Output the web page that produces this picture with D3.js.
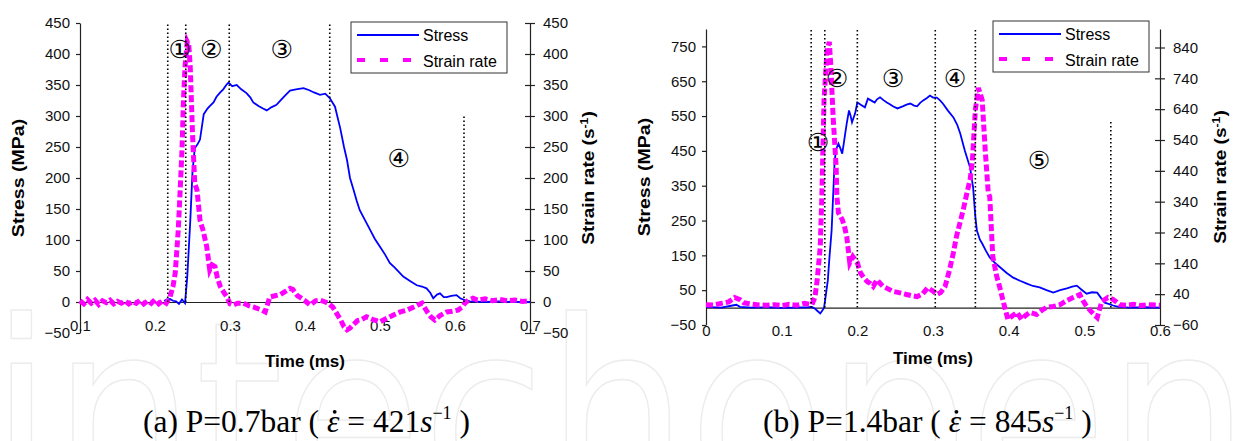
<!DOCTYPE html>
<html>
<head>
<meta charset="UTF-8">
<title></title>
<script src="https://d3js.org/d3.v7.min.js"></script>
<style>
body { margin: 0; background: #fff; }
svg text { font-family: "Liberation Sans", Arial, sans-serif; }
</style>
</head>
<body>
<div id="chart"></div>
<script>
// ---------- panel (a): P = 0.7 bar ----------
var timeTicksA = [0.1, 0.2, 0.3, 0.4, 0.5, 0.6, 0.7];
var stressTicksA = [-50, 0, 50, 100, 150, 200, 250, 300, 350, 400, 450];
var rateTicksA = [-50, 0, 50, 100, 150, 200, 250, 300, 350, 400, 450];

// [time (ms), stress (MPa)]
var stressA = [[0.212,2],[0.216,4],[0.220,5],[0.224,2],[0.228,1],[0.232,-3],[0.236,4],[0.240,-2],
  [0.243,40],[0.247,130],[0.250,210],[0.253,248],[0.257,255],[0.260,262],[0.265,303],[0.270,312],
  [0.273,316],[0.278,322],[0.282,331],[0.287,338],[0.291,343],[0.295,350],[0.298,354],[0.303,348],
  [0.309,350],[0.315,343],[0.322,337],[0.327,330],[0.331,322],[0.338,316],[0.344,312],[0.349,309],
  [0.355,314],[0.362,318],[0.368,326],[0.375,335],[0.380,341],[0.388,343],[0.398,345],[0.405,342],
  [0.412,338],[0.420,334],[0.427,336],[0.433,329],[0.440,315],[0.447,280],[0.452,250],[0.456,229],
  [0.460,200],[0.465,180],[0.469,163],[0.473,148],[0.480,132],[0.487,116],[0.493,102],[0.500,89],
  [0.507,76],[0.513,63],[0.520,55],[0.531,41],[0.540,34],[0.549,27],[0.556,25],[0.562,22],[0.567,15],
  [0.571,6],[0.576,12],[0.580,14],[0.585,8],[0.589,8],[0.595,10],[0.602,11],[0.607,6],[0.613,3],
  [0.620,1],[0.640,0],[0.660,1],[0.680,0],[0.700,0]];

// [time (ms), strain rate (1/s)]
var rateA = [[0.100,2],[0.105,-3],[0.110,4],[0.115,-2],[0.120,3],[0.125,-4],[0.130,2],[0.135,-1],
  [0.140,3],[0.145,-3],[0.150,1],[0.155,-2],[0.160,2],[0.165,-3],[0.170,1],[0.175,-2],[0.180,3],
  [0.185,-3],[0.190,2],[0.195,-2],[0.200,4],[0.205,-3],[0.210,2],[0.215,-2],[0.220,8],[0.224,25],
  [0.227,47],[0.231,116],[0.233,165],[0.236,245],[0.238,326],[0.240,379],[0.243,420],[0.245,415],
  [0.247,379],[0.250,272],[0.253,191],[0.256,181],[0.260,132],[0.264,116],[0.267,100],[0.269,89],
  [0.273,52],[0.276,60],[0.280,57],[0.283,40],[0.287,25],[0.292,15],[0.296,8],[0.300,-3],[0.304,-5],
  [0.310,-2],[0.318,-2],[0.325,-6],[0.331,-8],[0.340,-12],[0.347,-16],[0.353,8],[0.360,10],[0.367,12],
  [0.375,18],[0.380,22],[0.384,20],[0.390,10],[0.393,8],[0.400,2],[0.407,-5],[0.414,2],[0.420,3],
  [0.427,0],[0.431,-2],[0.437,-8],[0.442,-18],[0.448,-30],[0.452,-40],[0.456,-45],[0.460,-42],
  [0.464,-37],[0.470,-30],[0.476,-28],[0.482,-24],[0.490,-28],[0.500,-32],[0.508,-27],[0.518,-21],
  [0.527,-16],[0.536,-13],[0.545,-8],[0.550,-5],[0.556,-2],[0.560,-10],[0.564,-18],[0.568,-24],
  [0.573,-29],[0.580,-22],[0.589,-16],[0.596,-15],[0.604,-13],[0.610,-8],[0.613,-2],[0.618,3],
  [0.624,6],[0.630,3],[0.640,5],[0.650,2],[0.660,4],[0.670,2],[0.680,3],[0.690,1],[0.700,2]];

// phase boundaries: time and stress level where the dotted line stops
var phaseLinesA = [{t:0.217, top:450}, {t:0.241, top:450}, {t:0.299, top:450}, {t:0.433, top:450}, {t:0.612, top:300}];
var phaseLabelsA = [{s:"①", t:0.233, v:408}, {s:"②", t:0.275, v:408}, {s:"③", t:0.369, v:408}, {s:"④", t:0.525, v:232}];

// ---------- panel (b): P = 1.4 bar ----------
var timeTicksB = [0, 0.1, 0.2, 0.3, 0.4, 0.5, 0.6];
var stressTicksB = [-50, 50, 150, 250, 350, 450, 550, 650, 750];
var rateTicksB = [-60, 40, 140, 240, 340, 440, 540, 640, 740, 840];

var stressB = [[0,2],[0.020,0],[0.035,6],[0.040,8],[0.045,2],[0.060,0],[0.080,1],[0.100,-1],[0.120,0],
  [0.135,1],[0.140,2],[0.144,-3],[0.147,-9],[0.151,-17],[0.154,-8],[0.156,0],[0.158,30],[0.161,78],
  [0.163,140],[0.166,221],[0.168,320],[0.170,420],[0.172,455],[0.175,471],[0.178,455],[0.180,442],
  [0.182,470],[0.184,500],[0.186,529],[0.189,566],[0.191,552],[0.193,532],[0.195,545],[0.197,557],
  [0.200,589],[0.205,582],[0.210,575],[0.214,600],[0.218,595],[0.223,589],[0.226,598],[0.230,604],
  [0.235,595],[0.239,589],[0.243,584],[0.247,578],[0.253,572],[0.260,578],[0.265,583],[0.270,586],
  [0.275,580],[0.279,578],[0.283,588],[0.287,595],[0.292,602],[0.296,609],[0.300,603],[0.305,603],
  [0.309,596],[0.313,586],[0.320,565],[0.327,546],[0.332,525],[0.336,500],[0.342,451],[0.349,402],
  [0.353,345],[0.356,260],[0.358,221],[0.362,195],[0.365,184],[0.370,163],[0.375,144],[0.382,128],
  [0.389,115],[0.397,100],[0.406,86],[0.415,77],[0.424,69],[0.432,62],[0.441,58],[0.450,50],
  [0.459,43],[0.468,50],[0.477,55],[0.484,60],[0.490,63],[0.496,52],[0.503,40],[0.510,44],[0.517,43],
  [0.522,28],[0.527,14],[0.533,10],[0.538,6],[0.545,2],[0.560,0],[0.580,1],[0.600,0]];

var rateB = [[0,6],[0.010,5],[0.020,10],[0.030,15],[0.038,29],[0.045,22],[0.050,12],[0.060,8],[0.070,5],
  [0.080,4],[0.090,6],[0.100,3],[0.110,7],[0.120,4],[0.130,10],[0.140,6],[0.144,30],[0.147,87],
  [0.151,194],[0.153,346],[0.154,453],[0.156,670],[0.160,832],[0.163,858],[0.165,777],[0.168,615],
  [0.172,453],[0.173,356],[0.175,304],[0.180,282],[0.183,260],[0.186,227],[0.190,142],[0.194,162],
  [0.200,142],[0.204,110],[0.208,95],[0.213,81],[0.217,75],[0.221,65],[0.226,87],[0.230,75],[0.234,65],
  [0.240,58],[0.247,49],[0.255,45],[0.265,39],[0.272,35],[0.279,32],[0.286,40],[0.293,61],[0.300,50],
  [0.305,39],[0.310,45],[0.316,65],[0.322,120],[0.327,175],[0.331,227],[0.336,275],[0.340,314],
  [0.345,370],[0.349,411],[0.352,470],[0.356,638],[0.360,709],[0.365,670],[0.369,508],[0.373,369],
  [0.375,356],[0.379,162],[0.384,100],[0.389,55],[0.394,5],[0.399,-42],[0.405,-30],[0.411,-19],
  [0.417,-42],[0.422,-30],[0.428,-19],[0.437,-26],[0.444,-12],[0.450,-3],[0.459,0],[0.468,6],
  [0.476,18],[0.485,29],[0.494,39],[0.498,20],[0.503,0],[0.510,-19],[0.517,-36],[0.520,-10],
  [0.523,16],[0.531,29],[0.538,23],[0.547,6],[0.555,4],[0.565,7],[0.575,3],[0.585,6],[0.600,4]];

var phaseLinesB = [{t:0.139, top:800}, {t:0.157, top:800}, {t:0.200, top:800}, {t:0.303, top:800}, {t:0.356, top:800}, {t:0.535, top:540}];
var phaseLabelsB = [{s:"①", t:0.148, v:474}, {s:"②", t:0.173, v:658}, {s:"③", t:0.247, v:658}, {s:"④", t:0.329, v:658}, {s:"⑤", t:0.440, v:422}];

var svg = d3.select("#chart").append("svg")
    .attr("width", 1237)
    .attr("height", 441);

// faint watermark behind everything
svg.append("text")
    .attr("x", -10)
    .attr("y", 500)
    .attr("textLength", 1260)
    .attr("lengthAdjust", "spacingAndGlyphs")
    .style("font-family", "'DejaVu Sans'")
    .style("font-size", "250px")
    .attr("fill", "none")
    .attr("stroke", "#ececec")
    .attr("stroke-width", 1.5)
    .text("intechopen");

function drawPanel(o) {
    var x = d3.scaleLinear().domain(o.xDomain).range(o.xRange);
    var yL = d3.scaleLinear().domain(o.yLeftDomain).range(o.yRange);
    var yR = d3.scaleLinear().domain(o.yRightDomain).range(o.yRange);
    var g = svg.append("g");

    // left axis
    var la = g.append("g")
        .attr("transform", "translate(" + o.xRange[0] + ",0)")
        .call(d3.axisLeft(yL).tickValues(o.yLeftTicks).tickSize(4).tickSizeOuter(0).tickPadding(6));
    // right axis (ticks cross the line)
    var ra = g.append("g")
        .attr("transform", "translate(" + o.xRange[1] + ",0)")
        .call(d3.axisRight(yR).tickValues(o.yRightTicks).tickSize(5).tickSizeOuter(0).tickPadding(8));
    ra.selectAll(".tick line").attr("x1", -5);
    // time axis sits on zero
    var xa = g.append("g")
        .attr("transform", "translate(0," + yL(0) + ")")
        .call(d3.axisBottom(x).tickValues(o.xTicks).tickSize(0).tickSizeOuter(0).tickPadding(18)
            .tickFormat(d => d === 0 ? "0" : d3.format(".1f")(d)));
    [la, ra, xa].forEach(function(a) {
        a.attr("font-family", "'Liberation Sans', Arial, sans-serif").attr("font-size", 15);
        a.select(".domain").attr("stroke", "#222").attr("stroke-width", 1.2);
        a.selectAll(".tick line").attr("stroke", "#222").attr("stroke-width", 1.2);
        a.selectAll(".tick text").attr("fill", "#111");
    });

    var line = d3.line().x(d => x(d[0]));

    g.append("path")
        .datum(o.stress)
        .attr("d", line.y(d => yL(d[1])))
        .attr("fill", "none")
        .attr("stroke", "#0000ff")
        .attr("stroke-width", 1.8);

    g.append("path")
        .datum(o.rate)
        .attr("d", line.y(d => yR(d[1])))
        .attr("fill", "none")
        .attr("stroke", "#ff00ff")
        .attr("stroke-width", 5)
        .attr("stroke-dasharray", "7,3");

    // dotted phase boundaries
    g.selectAll("line.phase")
        .data(o.phaseLines)
        .join("line")
        .attr("class", "phase")
        .attr("x1", d => x(d.t)).attr("x2", d => x(d.t))
        .attr("y1", yL(0)).attr("y2", d => yL(d.top))
        .attr("stroke", "#000")
        .attr("stroke-width", 1.6)
        .attr("stroke-dasharray", "1.6,2.4");

    g.selectAll("text.phase")
        .data(o.phaseLabels)
        .join("text")
        .attr("class", "phase")
        .attr("x", d => x(d.t))
        .attr("y", d => yL(d.v))
        .attr("text-anchor", "middle")
        .attr("dominant-baseline", "central")
        .style("font-family", "'DejaVu Sans'")
        .style("font-size", "25px")
        .text(d => d.s);

    // legend
    var lg = g.append("g").attr("transform", "translate(" + o.legend[0] + "," + o.legend[1] + ")");
    lg.append("rect").attr("width", 156).attr("height", 51)
        .attr("fill", "#fff").attr("stroke", "#333").attr("stroke-width", 1);
    lg.append("line").attr("x1", 6).attr("x2", 68).attr("y1", 13).attr("y2", 13)
        .attr("stroke", "#0000ff").attr("stroke-width", 1.8);
    lg.append("line").attr("x1", 6).attr("x2", 68).attr("y1", 38).attr("y2", 38)
        .attr("stroke", "#ff00ff").attr("stroke-width", 4).attr("stroke-dasharray", "8,15");
    lg.append("text").attr("x", 72).attr("y", 19).style("font-size", "16px").text("Stress");
    lg.append("text").attr("x", 72).attr("y", 45).style("font-size", "16px").text("Strain rate");

    // axis titles (the source picture is a little taller than wide, so stretch the rotated ones)
    var midY = (o.yRange[0] + o.yRange[1]) / 2;
    g.append("text")
        .attr("transform", "translate(" + o.leftTitleX + "," + midY + ") rotate(-90) scale(1.15,1)")
        .attr("text-anchor", "middle")
        .style("font-weight", "bold").style("font-size", "17px")
        .text("Stress (MPa)");
    var rt = g.append("text")
        .attr("transform", "translate(" + o.rightTitleX + "," + midY + ") rotate(-90) scale(1.12,1)")
        .attr("text-anchor", "middle")
        .style("font-weight", "bold").style("font-size", "17px");
    rt.append("tspan").text("Strain rate (s");
    rt.append("tspan").attr("dy", -6).style("font-size", "11px").text("-1");
    rt.append("tspan").attr("dy", 6).text(")");
    g.append("text")
        .attr("x", (o.xRange[0] + o.xRange[1]) / 2)
        .attr("y", o.timeTitleY)
        .attr("text-anchor", "middle")
        .style("font-weight", "bold").style("font-size", "17px")
        .text("Time (ms)");

    // caption
    var fs = 31.5;
    var cap = g.append("text")
        .attr("x", o.caption[0]).attr("y", o.caption[1])
        .style("font-family", "'Liberation Serif', 'DejaVu Serif', serif")
        .style("font-size", fs + "px");
    var pre = o.captionText + " ( ";
    cap.append("tspan").text(pre);
    cap.append("tspan").style("font-style", "italic").text("\u03B5");
    cap.append("tspan").text(" = " + o.captionRate);
    cap.append("tspan").style("font-style", "italic").text("s");
    cap.append("tspan").attr("dy", -13).style("font-size", "18px").text("\u22121");
    cap.append("tspan").attr("dy", 13).text(" )");
    // the dot over epsilon
    var r = cap.node().getExtentOfChar(pre.length);
    g.append("circle")
        .attr("cx", r.x + r.width * 0.62)
        .attr("cy", o.caption[1] - fs * 0.64)
        .attr("r", 1.9)
        .attr("fill", "#000");
}

drawPanel({
    xDomain: [0.1, 0.7], xRange: [80, 530],
    yLeftDomain: [-50, 450], yRightDomain: [-50, 450], yRange: [333, 23],
    xTicks: timeTicksA, yLeftTicks: stressTicksA, yRightTicks: rateTicksA,
    stress: stressA, rate: rateA,
    phaseLines: phaseLinesA, phaseLabels: phaseLabelsA,
    legend: [351, 22], leftTitleX: 24, rightTitleX: 594, timeTitleY: 367,
    caption: [143, 432], captionText: "(a) P=0.7bar", captionRate: "421"
});

drawPanel({
    xDomain: [0, 0.6], xRange: [706, 1160],
    yLeftDomain: [-50, 800], yRightDomain: [-60, 900], yRange: [325, 29],
    xTicks: timeTicksB, yLeftTicks: stressTicksB, yRightTicks: rateTicksB,
    stress: stressB, rate: rateB,
    phaseLines: phaseLinesB, phaseLabels: phaseLabelsB,
    legend: [993, 21], leftTitleX: 650, rightTitleX: 1226, timeTitleY: 364,
    caption: [763, 432], captionText: "(b) P=1.4bar", captionRate: "845"
});
</script>
</body>
</html>
